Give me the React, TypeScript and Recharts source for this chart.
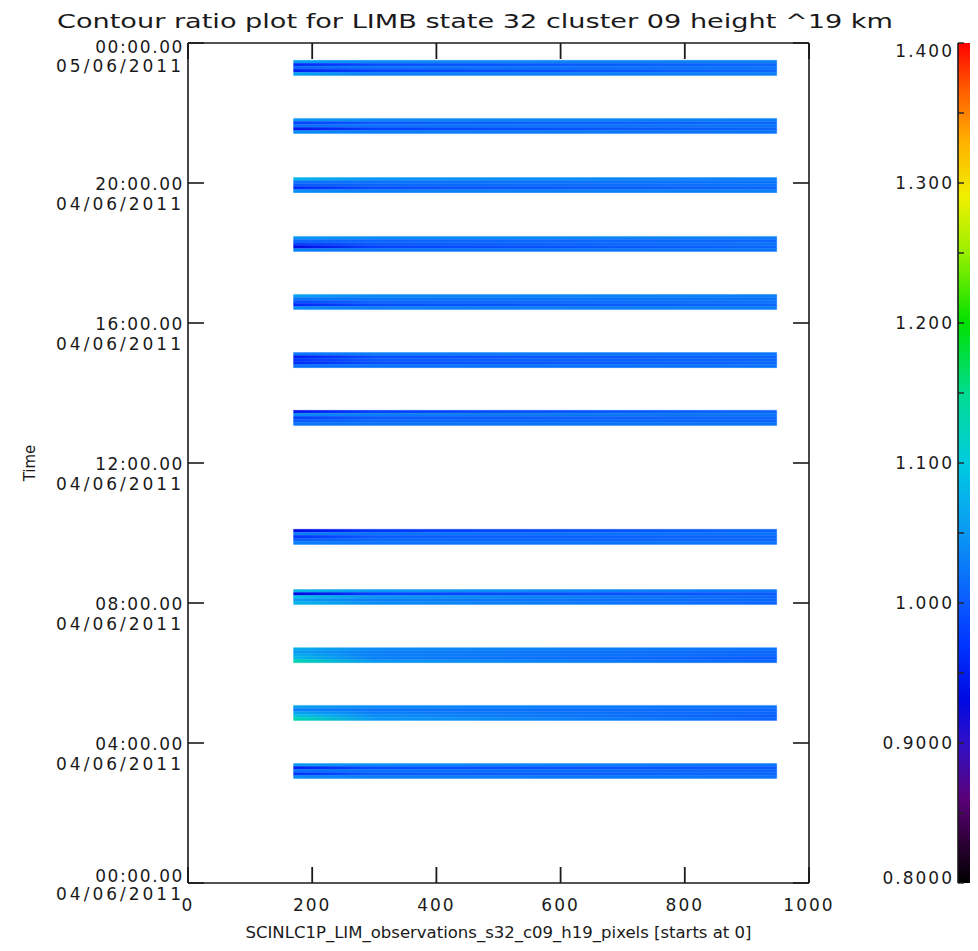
import React from 'react';
import { ComposedChart, XAxis, YAxis, ReferenceArea, Line } from 'recharts';

const FONT = '"DejaVu Sans", "Liberation Sans", sans-serif';
const INK = '#1a1a1a';

const titleText = 'Contour ratio plot for LIMB state 32 cluster 09 height ^19 km';
const xLabelText = 'SCINLC1P_LIM_observations_s32_c09_h19_pixels [starts at 0]';
const yLabelText = 'Time';

const xTicks = [0, 200, 400, 600, 800, 1000];
const timeTicks = [0, 4, 8, 12, 16, 20, 24];
const ratioTicks = [0.8, 0.85, 0.9, 0.95, 1.0, 1.05, 1.1, 1.15, 1.2, 1.25, 1.3, 1.35, 1.4];

// centre time (hours since 00:00 04/06/2011) of each observation band
const bandCentres = [23.29, 21.63, 19.94, 18.26, 16.6, 14.94, 13.29, 9.89, 8.17, 6.51, 4.86, 3.2];
const bandHalfHeight = 0.215;
const bandStartPixel = 170;
const bandMidPixel = 300;
const bandEndPixel = 948;

// ratio values of the 5 rows (top -> bottom) of each band at left, mid-left and right end
const bandLeft = [
  [1.06, 0.96, 1.01, 0.95, 1.06],
  [1.05, 0.98, 1.02, 0.94, 1.04],
  [1.08, 1.02, 1.0, 0.96, 1.04],
  [1.05, 1.01, 0.98, 0.93, 1.03],
  [1.06, 1.02, 0.99, 0.96, 1.04],
  [1.02, 0.95, 0.97, 0.96, 1.02],
  [0.94, 1.04, 0.98, 1.0, 1.02],
  [0.93, 1.03, 0.97, 1.0, 1.03],
  [1.08, 0.93, 1.09, 1.05, 1.08],
  [1.07, 1.05, 1.07, 1.08, 1.13],
  [1.06, 1.03, 1.06, 1.09, 1.13],
  [1.05, 0.95, 1.02, 0.97, 1.04],
];
const bandMid = [
  [1.04, 0.99, 1.02, 0.98, 1.03],
  [1.04, 1.0, 1.02, 0.98, 1.03],
  [1.05, 1.02, 1.01, 0.99, 1.03],
  [1.04, 1.01, 1.0, 0.98, 1.02],
  [1.04, 1.02, 1.01, 0.99, 1.03],
  [1.03, 0.99, 1.0, 0.99, 1.02],
  [0.98, 1.03, 1.0, 1.01, 1.02],
  [0.97, 1.02, 1.0, 1.01, 1.02],
  [1.05, 0.98, 1.05, 1.03, 1.04],
  [1.04, 1.03, 1.03, 1.03, 1.05],
  [1.04, 1.02, 1.03, 1.04, 1.05],
  [1.04, 0.99, 1.02, 1.0, 1.03],
];
const bandRight = [
  [1.03, 1.01, 1.02, 1.01, 1.03],
  [1.03, 1.01, 1.02, 1.01, 1.02],
  [1.03, 1.02, 1.02, 1.01, 1.03],
  [1.03, 1.01, 1.02, 1.01, 1.02],
  [1.03, 1.02, 1.02, 1.01, 1.03],
  [1.02, 1.01, 1.01, 1.01, 1.02],
  [1.01, 1.02, 1.01, 1.01, 1.02],
  [1.01, 1.02, 1.01, 1.01, 1.02],
  [1.02, 1.0, 1.01, 1.01, 1.01],
  [1.02, 1.01, 1.01, 1.0, 1.01],
  [1.02, 1.01, 1.01, 1.0, 1.01],
  [1.02, 1.0, 1.01, 1.01, 1.02],
];

// colour table (ratio -> colour)
const cmapValues = [0.8, 0.83, 0.86, 0.9, 0.93, 0.97, 1.0, 1.05, 1.1, 1.15, 1.2, 1.25, 1.29, 1.33, 1.37, 1.4];
const cmapColours = [
  '#000000', '#2e0038', '#5a0078', '#3010c8', '#0008e0', '#0034ff', '#0a5aff', '#0a98f4',
  '#00cce0', '#00dc90', '#00e000', '#98f000', '#f0f000', '#ffb000', '#ff5400', '#ff0000',
];

const anchorData = bandCentres.map((c) => ({ pixel: bandStartPixel, time: c }));
const colourbarData = [
  { pos: 0, ratio: ratioTicks[0] },
  { pos: 1, ratio: ratioTicks[ratioTicks.length - 1] },
];

const hexToRgb = (h: string) => [1, 3, 5].map((i) => parseInt(h.slice(i, i + 2), 16));
const colourFor = (v: number) => {
  if (v <= cmapValues[0]) return cmapColours[0];
  for (let i = 1; i < cmapValues.length; i++) {
    if (v <= cmapValues[i]) {
      const t = (v - cmapValues[i - 1]) / (cmapValues[i] - cmapValues[i - 1]);
      const a = hexToRgb(cmapColours[i - 1]);
      const b = hexToRgb(cmapColours[i]);
      const c = a.map((ai, k) => Math.round(ai + (b[k] - ai) * t));
      return `rgb(${c[0]},${c[1]},${c[2]})`;
    }
  }
  return cmapColours[cmapColours.length - 1];
};

const pad2 = (n: number) => (n < 10 ? `0${n}` : `${n}`);
const TICK_LEN = 16;
const BOTTOM_GAP = 15;

const TimeTick = (props: any) => {
  const { x, y, payload } = props;
  const v = payload.value as number;
  const first = `${pad2(v % 24)}:00.00`;
  const second = v >= 24 ? '05/06/2011' : '04/06/2011';
  let d1 = 7;
  let d2 = 27;
  if (v === 24) { d1 = 10; d2 = 29; }
  if (v === 0) { d1 = -1; d2 = 17; }
  const st1 = { fontFamily: FONT, fontSize: 17, letterSpacing: 1.6, fill: INK } as any;
  const st2 = { fontFamily: FONT, fontSize: 17, letterSpacing: 3, fill: INK } as any;
  return (
    <g>
      <text x={x} y={y + d1} textAnchor="end" style={st1}>{first}</text>
      <text x={x} y={y + d2} textAnchor="end" style={st2}>{second}</text>
    </g>
  );
};

const BottomTick = (props: any) => {
  const { x, y, payload } = props;
  return (
    <text x={x} y={y + 13} textAnchor="middle" style={{ fontFamily: FONT, fontSize: 17, letterSpacing: 2, fill: INK } as any}>
      {payload.value}
    </text>
  );
};

const RatioTick = (props: any) => {
  const { x, y, payload } = props;
  const v = payload.value as number;
  const hundredths = Math.round(v * 100);
  if (hundredths % 10 !== 0) return <g />;
  const label = v >= 1 ? v.toFixed(3) : v.toFixed(4);
  let d = 6;
  if (hundredths === 140) d = 14;
  if (hundredths === 80) d = 1;
  return (
    <text x={x} y={y + d} textAnchor="end" style={{ fontFamily: FONT, fontSize: 17, letterSpacing: 2, fill: INK } as any}>
      {label}
    </text>
  );
};

const EmptyTick = () => <g />;

const XLabel = (props: any) => {
  const vb = props.viewBox || {};
  const cx = vb.x + vb.width / 2;
  const by = vb.y + vb.height - 5;
  return (
    <text x={cx} y={by} textAnchor="middle" textLength={506} lengthAdjust="spacingAndGlyphs"
      style={{ fontFamily: FONT, fontSize: 15, fill: INK }}>
      {xLabelText}
    </text>
  );
};

const YLabel = (props: any) => {
  const vb = props.viewBox || {};
  const lx = vb.x + 27;
  const cy = vb.y + vb.height / 2;
  return (
    <text x={lx} y={cy} textAnchor="middle" transform={`rotate(-90, ${lx}, ${cy})`}
      style={{ fontFamily: FONT, fontSize: 15, fill: INK }}>
      {yLabelText}
    </text>
  );
};

const ROWS = 5;
const rowHeight = (bandHalfHeight * 2) / ROWS;

export default function App() {
  const axisStroke = { stroke: INK, strokeWidth: 1.6 };
  const midFrac = (bandMidPixel - bandStartPixel) / (bandEndPixel - bandStartPixel);

  const gradients: React.ReactNode[] = [];
  const areas: React.ReactNode[] = [];
  bandCentres.forEach((c, i) => {
    for (let j = 0; j < ROWS; j++) {
      const id = `band${i}row${j}`;
      gradients.push(
        <linearGradient key={id} id={id} x1="0" y1="0" x2="1" y2="0">
          <stop offset="0" stopColor={colourFor(bandLeft[i][j])} />
          <stop offset={midFrac} stopColor={colourFor(bandMid[i][j])} />
          <stop offset="1" stopColor={colourFor(bandRight[i][j])} />
        </linearGradient>
      );
      const top = c + bandHalfHeight - j * rowHeight;
      areas.push(
        <ReferenceArea
          key={id}
          xAxisId="x"
          yAxisId="t"
          x1={bandStartPixel}
          x2={bandEndPixel}
          y1={top - rowHeight}
          y2={top}
          fill={`url(#${id})`}
          fillOpacity={1}
          stroke={`url(#${id})`}
          strokeWidth={0.4}
          ifOverflow="visible"
        />
      );
    }
  });

  return (
    <div style={{ position: 'relative', width: 970, height: 935 }}>
      <ComposedChart width={970} height={935} margin={{ top: 0, right: 0, bottom: 0, left: 0 }} data={anchorData}>
        <defs>{gradients}</defs>
        <Line
          xAxisId="x"
          yAxisId="t"
          dataKey="time"
          stroke="none"
          dot={false}
          activeDot={false}
          legendType="none"
          isAnimationActive={false}
        />
        {areas}
        <XAxis
          xAxisId="x"
          dataKey="pixel"
          type="number"
          domain={[0, 1000]}
          ticks={xTicks}
          interval={0}
          height={60}
          allowDataOverflow
          axisLine={axisStroke}
          tickLine={{ stroke: INK, strokeWidth: 1.8 }}
          tickSize={-TICK_LEN}
          tickMargin={BOTTOM_GAP + TICK_LEN}
          tick={BottomTick}
          label={{ content: XLabel } as any}
        />
        <XAxis
          xAxisId="top"
          dataKey="pixel"
          orientation="top"
          type="number"
          domain={[0, 1000]}
          ticks={xTicks}
          interval={0}
          height={35}
          allowDataOverflow
          axisLine={axisStroke}
          tickLine={{ stroke: INK, strokeWidth: 1.8 }}
          tickSize={-TICK_LEN}
          tick={EmptyTick}
        />
        <YAxis
          yAxisId="t"
          type="number"
          domain={[0, 24]}
          ticks={timeTicks}
          interval={0}
          width={180}
          allowDataOverflow
          axisLine={axisStroke}
          tickLine={axisStroke}
          tickSize={-TICK_LEN}
          tickMargin={20}
          tick={TimeTick}
          label={{ content: YLabel } as any}
        />
        <YAxis
          yAxisId="r"
          orientation="right"
          type="number"
          domain={[0, 24]}
          ticks={timeTicks}
          interval={0}
          width={169}
          allowDataOverflow
          axisLine={axisStroke}
          tickLine={axisStroke}
          tickSize={-TICK_LEN}
          tick={EmptyTick}
        />
      </ComposedChart>

      <div style={{ position: 'absolute', left: 860, top: 0 }}>
        <ComposedChart width={110} height={935} margin={{ top: 35, right: 0, bottom: 60, left: 0 }} data={colourbarData}>
          <defs>
            <linearGradient id="colourbarGrad" x1="0" y1="1" x2="0" y2="0">
              {cmapValues.map((v, k) => (
                <stop key={k} offset={(v - 0.8) / 0.6} stopColor={cmapColours[k]} />
              ))}
            </linearGradient>
          </defs>
          <Line
            xAxisId="cbx"
            yAxisId="cb"
            dataKey="ratio"
            stroke="none"
            dot={false}
            activeDot={false}
            legendType="none"
            isAnimationActive={false}
          />
          <ReferenceArea
            xAxisId="cbx"
            yAxisId="cb"
            x1={0}
            x2={1}
            y1={0.8}
            y2={1.4}
            fill="url(#colourbarGrad)"
            fillOpacity={1}
            ifOverflow="visible"
          />
          <XAxis xAxisId="cbx" dataKey="pos" type="number" domain={[0, 1]} hide allowDataOverflow />
          <YAxis
            yAxisId="cb"
            type="number"
            domain={[0.8, 1.4]}
            ticks={ratioTicks}
            interval={0}
            width={90}
            allowDataOverflow
            axisLine={axisStroke}
            tickLine={{ stroke: '#222', strokeWidth: 1.4 }}
            tickSize={-6}
            tickMargin={10}
            tick={RatioTick}
          />
        </ComposedChart>
      </div>

      <svg width={970} height={40} style={{ position: 'absolute', left: 0, top: 0, pointerEvents: 'none' }}>
        <text x={49} y={20} textLength={836} lengthAdjust="spacingAndGlyphs"
          style={{ fontFamily: FONT, fontSize: 19, fill: INK }}>
          {titleText}
        </text>
      </svg>
    </div>
  );
}
